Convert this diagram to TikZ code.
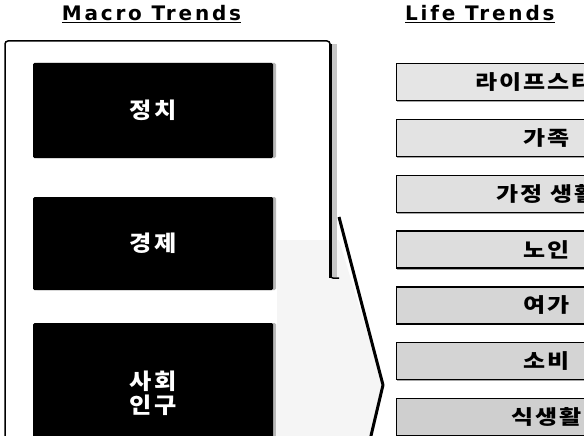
\documentclass[tikz,border=0pt]{standalone}
\usepackage{fontspec}
\setmainfont{DejaVu Sans}
\newfontfamily\titlefont[LetterSpace=14]{DejaVu Sans}
\newfontfamily\kofont[FakeStretch=1.1,LetterSpace=10]{Noto Sans CJK KR}
\newfontfamily\kowide[FakeStretch=1.2,LetterSpace=10]{Noto Sans CJK KR}
\usetikzlibrary{positioning,shadows}

\begin{document}
\begin{tikzpicture}[x=1pt,y=-1pt,
  node distance=17.5pt,
  headline/.style={font=\titlefont\bfseries\fontsize{20}{22}\selectfont,inner sep=0pt},
  macrobox/.style={fill=black,rounded corners=1.5pt,minimum width=240pt,text=white,
    align=center,font=\kofont\bfseries\fontsize{22}{24}\selectfont,
    drop shadow={shadow xshift=3pt,shadow yshift=0pt,fill=gray!55,opacity=1}},
  lifebox/.style={draw,line width=1.3pt,minimum width=300pt,minimum height=37pt,inner sep=0pt,
    font=\kowide\bfseries\fontsize{20}{22}\selectfont,
    drop shadow={shadow xshift=0.6pt,shadow yshift=-1.6pt,fill=gray!70,opacity=1}}]
\useasboundingbox (0,0) rectangle (584,436);
\clip (0,0) rectangle (584,436);

% titles
\node[headline,anchor=base] (macro) at (151.5,20.5) {\underline{Macro Trends}};
\node[headline,anchor=base west] (life) at (405,20.5) {\underline{Life Trends}};

% frame round the macro side
\fill[gray!8] (277,240) -- (339,240) -- (383,385) -- (370,440) -- (277,440) -- cycle;
\draw[line width=1.5pt,rounded corners=3pt] (5,440) |- (330,41) -- (330,278) -- (339,278);
\fill[gray!45] (331.5,44) rectangle (337,277);
\draw[line width=3pt] (330,44) -- (330,278);
\draw[line width=3pt,line join=round] (339,217) -- (383,385) -- (370,440);

% macro trends
\node[macrobox,minimum height=95pt] (jeongchi) at (153,110.5) {정치};
\node[macrobox,minimum height=93pt] (gyeongje) at (153,243.5) {경제};
\node[macrobox,minimum height=140pt] (sahoe) at (153,393) {사회\\인구};

% life trends
\node[lifebox,fill=gray!20,anchor=north west] (lifestyle) at (396,63) {라이프스타일};
\node[lifebox,fill=gray!22,below=of lifestyle] (gajok) {가족};
\node[lifebox,fill=gray!24,below=of gajok] (gajeong) {가정 생활};
\node[lifebox,fill=gray!27,below=of gajeong] (noin) {노인};
\node[lifebox,fill=gray!32,below=of noin] (yeoga) {여가};
\node[lifebox,fill=gray!34,below=of yeoga] (sobi) {소비};
\node[lifebox,fill=gray!38,below=of sobi] (siksaenghwal) {식생활};
\end{tikzpicture}
\end{document}
